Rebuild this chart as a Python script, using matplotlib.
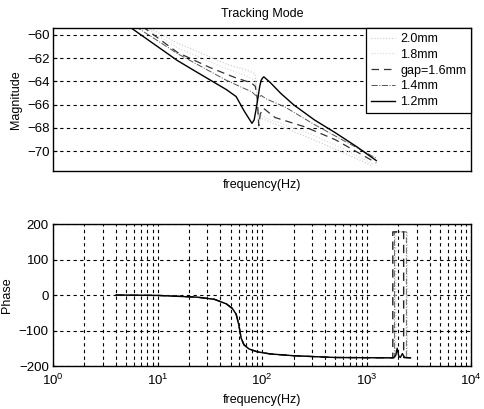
import matplotlib
matplotlib.use("Agg")
import matplotlib.pyplot as plt

plt.rcParams['font.family'] = ['Liberation Sans', 'DejaVu Sans']
plt.rcParams['mathtext.fontset'] = 'custom'
plt.rcParams['mathtext.rm'] = 'Liberation Sans'
plt.rcParams['font.size'] = 9

# magnitude (dB) per gap size, zoomed view
freq_20 = [6, 8, 15.5, 23.8, 45.6, 70, 85, 89, 92, 95, 100, 166, 394, 934, 1150]
mag_20 = [-58.9, -59.3, -60.7, -61.4, -62.5, -63.0, -63.3, -64.6, -67.6, -67.0, -67.2, -68.0, -69.4, -70.9, -71.3]

freq_18 = [5.8, 7.8, 15.5, 45.6, 70, 86, 90, 93, 97, 120, 256, 600, 1150]
mag_18 = [-58.9, -59.4, -61.1, -62.9, -63.5, -63.9, -65.5, -68.0, -66.9, -67.3, -68.3, -69.8, -71.1]

freq_16 = [5.5, 7.5, 15.5, 31.7, 56.5, 78, 86, 90, 93, 96, 103, 133, 256, 500, 900, 1236]
mag_16 = [-58.9, -59.4, -61.5, -62.8, -63.7, -64.1, -64.4, -65.5, -67.8, -66.8, -66.3, -67.1, -67.9, -69.0, -70.3, -71.0]

freq_14 = [5, 6.5, 15.5, 45.6, 80, 92, 98, 110, 166, 316, 607, 1236]
mag_14 = [-58.9, -59.4, -61.6, -63.9, -64.9, -65.4, -65.2, -65.5, -66.2, -67.7, -69.1, -70.6]

freq_12 = [4.5, 5.6, 15.5, 23.8, 45.6, 56.5, 67, 75, 80, 84, 88, 92, 95, 98, 101, 104,
           120, 150, 200, 316, 500, 800, 1236]
mag_12 = [-58.8, -59.4, -62.2, -63.2, -64.7, -65.3, -66.5, -67.2, -67.6, -67.3, -66.3, -65.2,
          -64.4, -63.9, -63.7, -63.6, -64.1, -65.0, -66.0, -67.3, -68.4, -69.6, -70.8]

# phase (deg)
freq_ph = [4, 10, 24, 35, 45.6, 52, 56.5, 60, 63, 67, 75, 90, 120, 200, 500, 1800,
           1900, 1960, 2030, 2100, 2200, 2300, 2630]
phase_12 = [0, -1, -6, -12, -25, -38, -54, -85, -121, -140, -152, -160, -166, -171, -176, -177,
            -170, -150, -172, -176, -165, -176, -177]

freq_wrap = [4, 10, 24, 35, 45.6, 52, 56.5, 60, 63, 67, 75, 90, 120, 200, 500]
phase_wrap = [0, -1, -6, -12, -25, -38, -54, -85, -121, -140, -152, -160, -166, -171, -176]

freq_16_tail = [1780, 1780, 2260, 2260, 2630]
phase_16_tail = [-177, 178, 178, -176, -177]
freq_14_tail = [1850, 1850, 2400, 2400, 2630]
phase_14_tail = [-177, 178, 178, -176, -177]
freq_18_tail = [1900, 1900, 2460, 2460, 2630]
phase_18_tail = [-177, 179, 179, -176, -177]

labels = ['2.0mm', '1.8mm', 'gap=1.6mm', '1.4mm', '1.2mm']

fig = plt.figure(figsize=(4.84, 4.09), dpi=100)
ax1 = fig.add_axes([0.1095, 0.5819, 0.864, 0.3496])
ax2 = fig.add_axes([0.1095, 0.1051, 0.864, 0.347])

grid_style = dict(color='black', linestyle=(0, (3, 3)), linewidth=0.8)

# top: magnitude
ax1.plot(freq_20, mag_20, color='#c8c8c8', linestyle=':', linewidth=0.8, label=labels[0])
ax1.plot(freq_18, mag_18, color='#d8d8d8', linestyle=':', linewidth=0.8, label=labels[1])
ax1.plot(freq_16, mag_16, color='#333333', linestyle=(0, (6, 4)), linewidth=0.9, label=labels[2])
ax1.plot(freq_14, mag_14, color='#555555', linestyle='-.', linewidth=0.7, label=labels[3])
ax1.plot(freq_12, mag_12, color='black', linestyle='-', linewidth=1.0, label=labels[4])
ax1.set_xscale('log')
ax1.set_xlim(1, 1e4)
ax1.set_ylim(-71.7, -59.4)
ax1.set_yticks([-70, -68, -66, -64, -62, -60])
ax1.set_xticks([])
ax1.minorticks_off()
ax1.yaxis.grid(True, **grid_style)
ax1.set_axisbelow(True)
ax1.tick_params(direction='in', length=3, pad=2, labelsize=9.5)
ax1.set_title('Tracking Mode', fontsize=9, pad=8)
ax1.set_xlabel('frequency(Hz)', labelpad=6)
ax1.set_ylabel('Magnitude', labelpad=4)
leg = ax1.legend(loc='upper right', bbox_to_anchor=(1, 1), borderaxespad=0, fancybox=False,
                 edgecolor='black', framealpha=1, handlelength=1.9, handletextpad=0.4,
                 labelspacing=0.3, fontsize=9, borderpad=0.4)
leg.get_frame().set_linewidth(0.9)

# bottom: phase
ax2.plot(freq_wrap + freq_18_tail, phase_wrap + phase_18_tail, color='#cfcfcf', linestyle=':', linewidth=0.8)
ax2.plot(freq_wrap + freq_18_tail, phase_wrap + phase_18_tail, color='#d8d8d8', linestyle=':', linewidth=0.8)
ax2.plot(freq_wrap + freq_14_tail, phase_wrap + phase_14_tail, color='#666666', linestyle='-.', linewidth=0.7)
ax2.plot(freq_wrap + freq_16_tail, phase_wrap + phase_16_tail, color='#222222', linestyle=(0, (6, 4)), linewidth=1.0)
ax2.plot(freq_ph, phase_12, color='black', linewidth=1.0)
ax2.set_xscale('log')
ax2.set_xlim(1, 1e4)
ax2.set_ylim(-200, 200)
ax2.set_yticks([-200, -100, 0, 100, 200])
ax2.grid(True, which='both', **grid_style)
ax2.tick_params(which='both', direction='in', length=3, pad=3, labelsize=9.5)
ax2.tick_params(axis='x', pad=5)
ax2.set_xlabel('frequency(Hz)', labelpad=4)
ax2.set_ylabel('Phase', labelpad=4)

for ax in (ax1, ax2):
    for sp in ax.spines.values():
        sp.set_linewidth(1.0)

fig.savefig('out.png', dpi=100)
